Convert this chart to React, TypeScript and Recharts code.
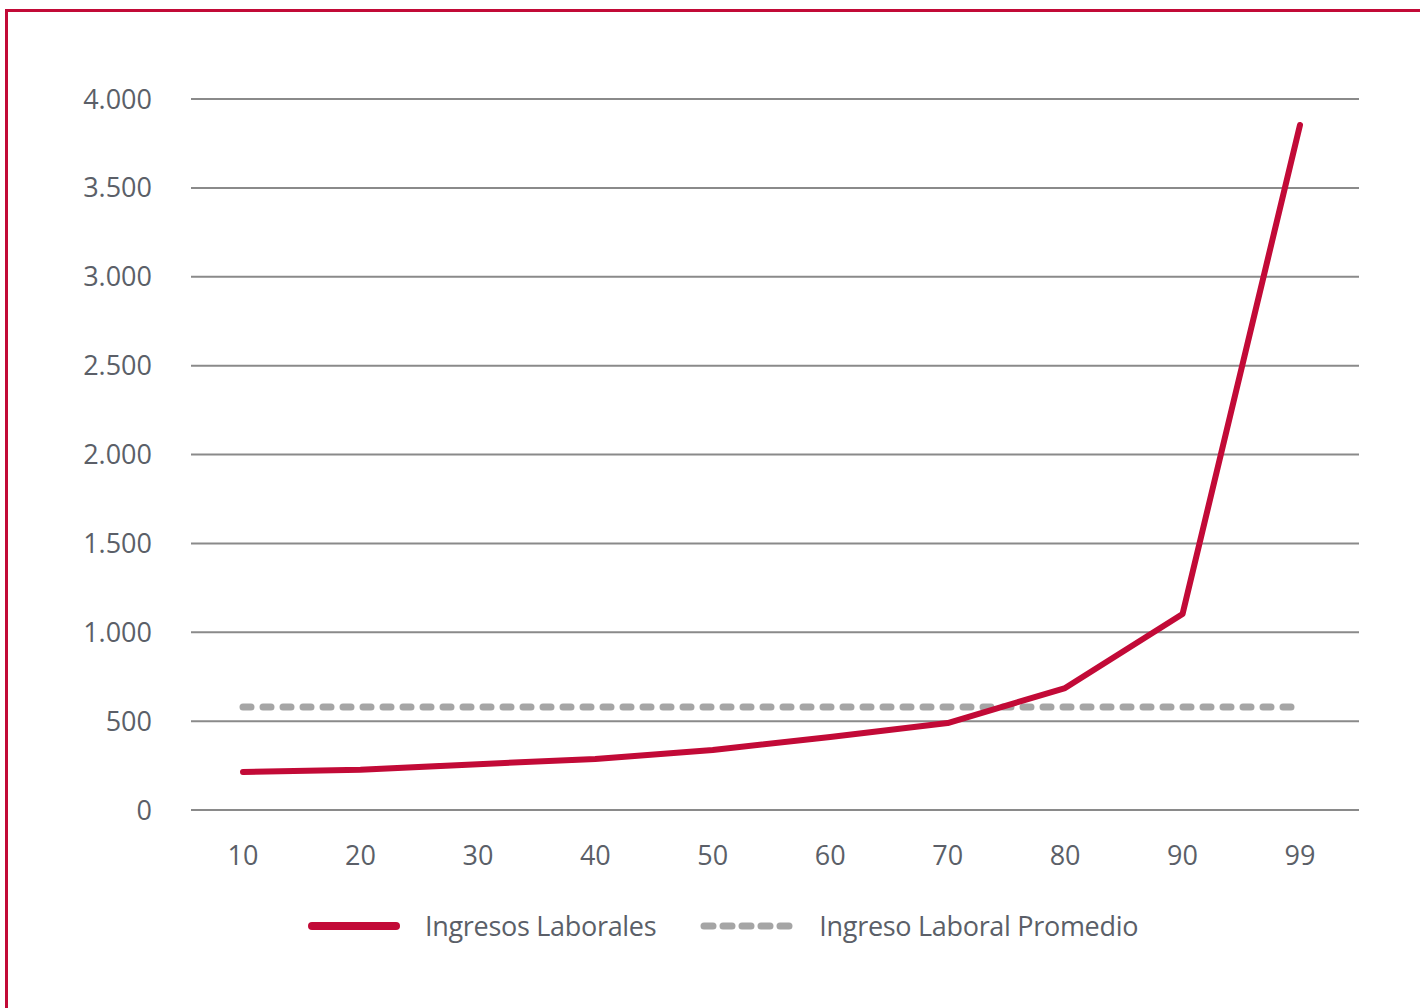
import { CartesianGrid, Line, LineChart, XAxis, YAxis } from "recharts";

// Percentiles of the labour-income distribution
const PERCENTILES = ["10", "20", "30", "40", "50", "60", "70", "80", "90", "99"];
const INGRESOS = [214, 226, 258, 287, 338, 411, 489, 686, 1103, 3854];
const PROMEDIO = [579, 579, 579, 579, 579, 579, 579, 579, 579, 579];
const Y_TICKS = [0, 500, 1000, 1500, 2000, 2500, 3000, 3500, 4000];

const RED = "#c20a37";
const GREY_DASH = "#a5a5a5";
const TEXT = "#5b5f68";
const FONT = "'Open Sans', sans-serif";

const data = PERCENTILES.map((p, i) => ({ p, ingresos: INGRESOS[i], promedio: PROMEDIO[i] }));

const fmt = (v: number) => v.toLocaleString("de-DE");

function ChartLegend() {
  return (
    <div
      style={{
        position: "absolute",
        left: 308,
        top: 907,
        display: "flex",
        alignItems: "center",
        fontFamily: FONT,
        fontSize: 27,
        letterSpacing: -0.3,
        color: TEXT,
        whiteSpace: "nowrap",
      }}
    >
      <span style={{ width: 92, height: 8, borderRadius: 4, background: RED, marginRight: 25 }} />
      <span style={{ marginRight: 44 }}>Ingresos Laborales</span>
      <svg width={94} height={8} style={{ marginRight: 25 }}>
        <line x1={4} y1={4} x2={90} y2={4} stroke={GREY_DASH} strokeWidth={7} strokeDasharray="9 10" strokeLinecap="round" />
      </svg>
      <span>Ingreso Laboral Promedio</span>
    </div>
  );
}

export default function App() {
  return (
    <div style={{ position: "absolute", left: 0, top: 0, width: 1420, height: 1008, background: "#fff", overflow: "hidden" }}>
      <div
        style={{
          position: "absolute",
          left: 5,
          top: 9,
          width: 1420,
          height: 1008,
          borderLeft: `3px solid ${RED}`,
          borderTop: `3px solid ${RED}`,
        }}
      />
      <div style={{ position: "absolute", left: 0, top: 0 }}>
        <LineChart width={1420} height={1008} data={data} margin={{ top: 99, right: 61, bottom: 0, left: 0 }}>
          <CartesianGrid horizontal vertical={false} stroke="#8a8a8a" strokeWidth={2} />
          <XAxis
            dataKey="p"
            axisLine={false}
            tickLine={false}
            tickSize={0}
            tickMargin={36}
            padding={{ left: 52, right: 59 }}
            height={198}
            tick={{ fill: TEXT, fontSize: 27, fontFamily: FONT }}
          />
          <YAxis
            width={191}
            domain={[0, 4000]}
            ticks={Y_TICKS}
            tickFormatter={fmt}
            axisLine={false}
            tickLine={false}
            tickSize={0}
            tickMargin={39}
            tick={{ fill: TEXT, fontSize: 27, fontFamily: FONT }}
          />
          <Line
            dataKey="promedio"
            stroke={GREY_DASH}
            strokeWidth={7}
            strokeDasharray="8 12"
            strokeLinecap="round"
            dot={false}
            isAnimationActive={false}
          />
          <Line
            dataKey="ingresos"
            stroke={RED}
            strokeWidth={6}
            strokeLinecap="round"
            strokeLinejoin="round"
            dot={false}
            isAnimationActive={false}
          />
        </LineChart>
      </div>
      <ChartLegend />
    </div>
  );
}
